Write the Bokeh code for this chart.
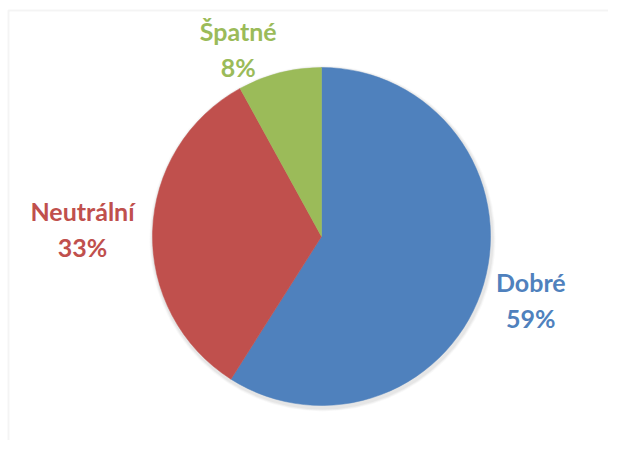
import math
from bokeh.plotting import figure
from bokeh.models import ColumnDataSource, Range1d, BoxAnnotation
from bokeh.core.properties import value
from bokeh.embed import file_html
from bokeh.resources import INLINE

# data
categories = ["Dobré", "Neutrální", "Špatné"]
percents = [59, 33, 8]
colors = ["#4F81BD", "#C0504D", "#9BBB59"]

# layout (pixel-like data units, y up)
W, H = 608, 440
cx, cy, R = 321, 204, 169
label_r = [1.29, 1.415, 1.148]
label_dx = [0, 0, -35]
label_dy = [-3, 0, 0]

total = sum(percents)
starts, ends, lx, ly, texts = [], [], [], [], []
a = math.pi / 2
for i, v in enumerate(percents):
    sweep = v / total * 2 * math.pi
    starts.append(a)
    ends.append(a - sweep)
    mid = a - sweep / 2
    lx.append(cx + label_r[i] * R * math.cos(mid) + label_dx[i])
    ly.append(cy + label_r[i] * R * math.sin(mid) + label_dy[i])
    texts.append(f"{categories[i]}\n{v}%")
    a -= sweep

src = ColumnDataSource(dict(start=starts, end=ends, color=colors))
lsrc = ColumnDataSource(dict(x=lx, y=ly, text=texts, color=colors))

p = figure(width=W, height=H, output_backend="svg", toolbar_location=None,
           x_range=Range1d(0, W), y_range=Range1d(0, H),
           min_border_left=0, min_border_right=0, min_border_bottom=0,
           min_border_top=0)
p.axis.visible = False
p.grid.visible = False
p.outline_line_color = None
p.background_fill_color = "white"
p.border_fill_color = "white"

# chart area border (only top/left edges fall inside the window)
p.add_layout(BoxAnnotation(left=8, top=H - 10, right=W + 100, bottom=-100,
                           fill_alpha=0, line_color="#D9D9D9", line_width=2))

# soft shadow
for k, alpha in [(4, 0.05), (3, 0.07), (2, 0.09)]:
    p.circle(x=[cx + 1], y=[cy - 2], radius=R + k, fill_color="#808080",
             fill_alpha=alpha, line_color=None)

p.wedge(x=cx, y=cy, radius=R, start_angle="start", end_angle="end",
        direction="clock", fill_color="color", line_color="color",
        line_width=0.5, source=src)

p.text(x="x", y="y", text="text", text_color="color", source=lsrc,
       text_font=value("Lato"), text_font_style="bold", text_font_size="25px",
       text_align="center", text_baseline="middle", text_line_height=1.2)

open("out.html", "w").write(file_html(p, INLINE))
